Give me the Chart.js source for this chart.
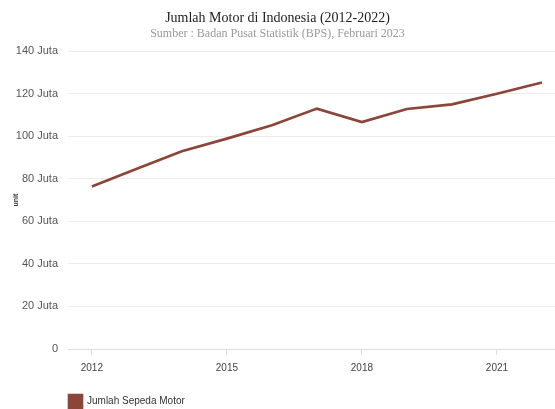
<!DOCTYPE html>
<html>
<head>
<meta charset="utf-8">
<script src="https://cdn.jsdelivr.net/npm/chart.js@4"></script>
<style>
  html, body { margin: 0; padding: 0; background: #fff; }
  #wrap { width: 555px; height: 409px; }
</style>
</head>
<body>
<div id="wrap"><canvas id="motorChart"></canvas></div>
<script>
const years = [2012, 2013, 2014, 2015, 2016, 2017, 2018, 2019, 2020, 2021, 2022];
// jumlah sepeda motor, dalam juta unit
const motorJuta = [76.4, 84.7, 93.0, 98.9, 105.2, 113.0, 106.7, 112.8, 115.0, 120.0, 125.3];
const xTicks = [2012, 2015, 2018, 2021];
const yTicks = [0, 20, 40, 60, 80, 100, 120, 140];

const lineColor = '#8b4539';

// geser legenda supaya sejajar dengan area plot
const legendShift = {
    id: 'legendShift',
    afterLayout(chart) {
        chart.legend.left += 64;
        chart.legend.right += 64;
        chart.legend.top += 9;
        chart.legend.bottom += 9;
    }
};

const ctx = document.getElementById('motorChart').getContext('2d');
const chart = new Chart(ctx, {
    type: 'line',
    data: {
        datasets: [{
            label: 'Jumlah Sepeda Motor',
            data: years.map((y, i) => ({ x: y, y: motorJuta[i] })),
            borderColor: lineColor,
            backgroundColor: lineColor,
            borderWidth: 2.6,
            pointRadius: 0,
            tension: 0
        }]
    },
    options: {
        responsive: true,
        maintainAspectRatio: false,
        animation: false,
        plugins: {
            title: {
                display: true,
                text: 'Jumlah Motor di Indonesia (2012-2022)',
                color: '#222',
                font: { family: 'Liberation Serif', size: 14, weight: 'normal' },
                padding: { top: 10, bottom: 0 }
            },
            subtitle: {
                display: true,
                text: 'Sumber : Badan Pusat Statistik (BPS), Februari 2023',
                color: '#9a9a9a',
                font: { family: 'Liberation Serif', size: 12 },
                padding: { top: 0, bottom: 10 }
            },
            legend: {
                position: 'bottom',
                align: 'start',
                labels: {
                    boxWidth: 13,
                    boxHeight: 13,
                    color: '#333',
                    font: { family: 'Liberation Sans', size: 10 },
                    padding: 5
                }
            },
            tooltip: { enabled: false }
        },
        scales: {
            x: {
                type: 'linear',
                min: 2011.47,
                max: 2022.29,
                afterBuildTicks: (scale) => {
                    scale.ticks = xTicks.map(v => ({ value: v }));
                },
                ticks: {
                    callback: (v) => String(v),
                    color: '#444',
                    font: { family: 'Liberation Sans', size: 10 },
                    padding: 7,
                    maxRotation: 0
                },
                grid: {
                    drawOnChartArea: false,
                    color: '#dddddd',
                    tickLength: 6
                },
                border: { color: '#dddddd' }
            },
            y: {
                min: 0,
                max: 140,
                afterBuildTicks: (scale) => {
                    scale.ticks = yTicks.map(v => ({ value: v }));
                },
                afterFit: (scale) => {
                    scale.width = 68;
                },
                ticks: {
                    callback: (v) => v === 0 ? '0' : v + ' Juta',
                    color: '#555',
                    font: { family: 'Liberation Sans', size: 11 },
                    padding: 10
                },
                title: {
                    display: true,
                    text: 'unit',
                    color: '#333',
                    font: { family: 'Liberation Sans', size: 7, weight: 'bold' },
                    padding: { top: 12, bottom: 0 }
                },
                grid: {
                    color: '#ececec',
                    drawTicks: false
                },
                border: { display: false }
            }
        }
    },
    plugins: [legendShift]
});
</script>
</body>
</html>
